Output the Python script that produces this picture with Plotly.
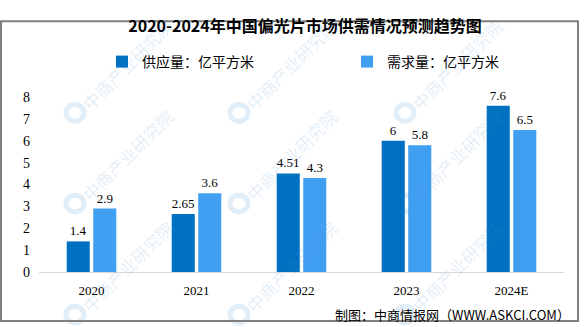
import plotly.graph_objects as go

# Data
years = ["2020", "2021", "2022", "2023", "2024E"]
supply = [1.4, 2.65, 4.51, 6, 7.6]
demand = [2.9, 3.6, 4.3, 5.8, 6.5]
supply_name = "供应量：亿平方米"
demand_name = "需求量：亿平方米"
title_text = "2020-2024年中国偏光片市场供需情况预测趋势图"
source_text = "制图：中商情报网（WWW.ASKCI.COM）"
watermark_text = "中商产业研究院"

W, H = 586, 327
L, R, T, B = 39, 22, 83, 55

serif = "Liberation Serif, DejaVu Serif, Noto Sans CJK SC, serif"
cjk = "Noto Sans CJK SC, sans-serif"


def px_x(px):
    return (px - L) / (W - L - R)


def px_y(py):
    return (H - B - py) / (H - T - B)


fig = go.Figure()
fig.add_trace(go.Bar(
    x=years, y=supply, name=supply_name,
    marker=dict(color="#0070C0", line=dict(width=0)),
    text=[f"{v:g}" for v in supply], textposition="outside",
    textfont=dict(family=serif, size=13, color="#000000"),
    cliponaxis=False,
))
fig.add_trace(go.Bar(
    x=years, y=demand, name=demand_name,
    marker=dict(color="#419FF2", line=dict(width=0)),
    text=[f"{v:g}" for v in demand], textposition="outside",
    textfont=dict(family=serif, size=13, color="#000000"),
    cliponaxis=False,
))

# Faint diagonal watermarks, kept inside the canvas
annotations = []
shapes = []
for lx in (75, 239, 405):
    for ly in (100, 198, 318):
        annotations.append(dict(
            xref="paper", yref="paper",
            x=px_x(lx + 52), y=px_y(ly - 52),
            text=watermark_text, showarrow=False, textangle=-45,
            font=dict(family=cjk, size=17, color="rgba(80,150,210,0.17)"),
            xanchor="center", yanchor="middle",
        ))
        shapes.append(dict(
            type="circle", xref="paper", yref="paper", layer="below",
            x0=px_x(lx - 9), x1=px_x(lx + 9),
            y0=px_y(ly + 9), y1=px_y(ly - 9),
            line=dict(color="rgba(80,150,210,0.17)", width=5),
        ))

# Source line
annotations.append(dict(
    xref="paper", yref="paper",
    x=px_x(572), y=px_y(318),
    text=source_text, showarrow=False, xanchor="right", yanchor="middle",
    font=dict(family=cjk, size=13, color="#000000"),
))

# Outer grey frame
shapes.append(dict(
    type="rect", xref="paper", yref="paper", layer="above",
    x0=px_x(1), x1=px_x(578), y0=px_y(325), y1=px_y(1),
    line=dict(color="#7f7f7f", width=2),
))

fig.update_layout(
    width=W, height=H,
    margin=dict(l=L, r=R, t=T, b=B, pad=0),
    paper_bgcolor="#ffffff", plot_bgcolor="rgba(0,0,0,0)",
    barmode="group", bargap=0.495, bargroupgap=0.13,
    title=dict(
        text=f"<b>{title_text}</b>", x=305 / W, xanchor="center",
        xref="container", y=1 - 26 / H, yref="container", yanchor="middle",
        font=dict(family=cjk, size=16, color="#000000"),
    ),
    legend=dict(
        orientation="h", xref="container", yref="container",
        x=102 / W, y=1 - 62 / H, xanchor="left", yanchor="middle",
        font=dict(family=cjk, size=14, color="#000000"),
        entrywidth=200, itemwidth=30, bgcolor="rgba(0,0,0,0)",
    ),
    xaxis=dict(
        showgrid=False, showline=True, linecolor="#d9d9d9", linewidth=1,
        ticks="", ticklabelstandoff=6,
        tickfont=dict(family=serif, size=13, color="#000000"),
        fixedrange=True,
    ),
    yaxis=dict(
        range=[0, 8], dtick=1, showgrid=False, showline=False, zeroline=False,
        ticks="", ticklabelstandoff=8,
        tickfont=dict(family=serif, size=14, color="#000000"),
        fixedrange=True,
    ),
    annotations=annotations, shapes=shapes, showlegend=True,
)

fig.write_html("out.html")
